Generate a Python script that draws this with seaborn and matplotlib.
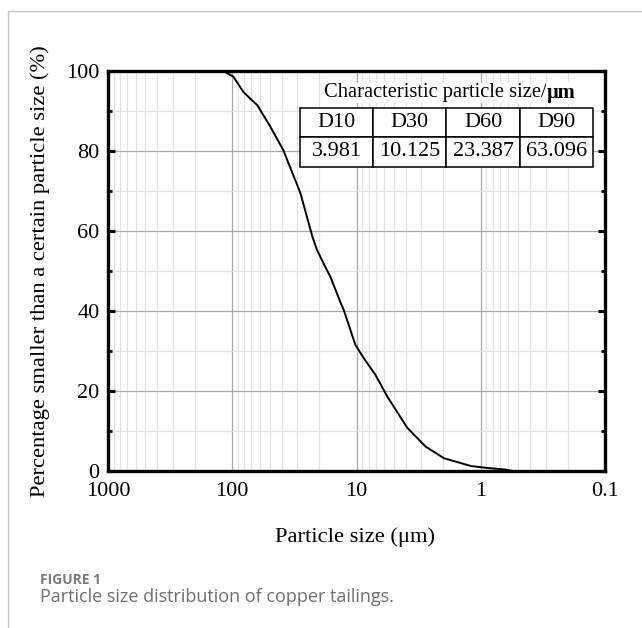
import matplotlib
matplotlib.use("Agg")
import matplotlib.pyplot as plt
import matplotlib.lines as mlines
import numpy as np
import pandas as pd
import seaborn as sns

# cumulative passing curve
particle_size = [1000, 118, 98, 81.5, 69, 63, 49.4, 38.8, 28.3, 22.6, 20.8, 18.5, 16.2,
                 13.4, 12.65, 10.2, 8.73, 7.03, 5.65, 3.9, 2.78, 1.98, 1.2, 0.88, 0.65, 0.55]
pct_smaller = [100, 100, 98.6, 94.8, 92.6, 91.5, 86.1, 80.2, 69.5, 58.5, 55.3, 52, 48.5,
               42, 40.2, 31.5, 28.2, 24, 18.6, 10.8, 6.1, 3.2, 1.25, 0.75, 0.4, 0]

x_ticks = [1000, 100, 10, 1, 0.1]
x_tick_labels = ["1000", "100", "10", "1", "0.1"]
y_ticks = [0, 20, 40, 60, 80, 100]

d_names = ["D10", "D30", "D60", "D90"]
d_values = ["3.981", "10.125", "23.387", "63.096"]

SERIF = ["Liberation Serif", "DejaVu Serif"]


def main():
    sns.set_style("ticks", {"axes.edgecolor": "black", "text.color": "black",
                            "xtick.color": "black", "ytick.color": "black",
                            "axes.labelcolor": "black"})
    plt.rcParams["font.family"] = SERIF

    df = pd.DataFrame({"size": particle_size, "pct": pct_smaller})

    fig = plt.figure(figsize=(6.42, 6.28), dpi=100)
    ax = fig.add_axes([108 / 642, 1 - 471 / 628, 497 / 642, 400 / 628])

    sns.lineplot(data=df, x="size", y="pct", color="black", linewidth=1.4,
                 sort=False, estimator=None, ax=ax)

    ax.set_xscale("log")
    ax.set_xlim(1000, 0.1)
    ax.set_ylim(0, 100)
    ax.set_xticks(x_ticks)
    ax.set_xticklabels(x_tick_labels)
    ax.set_yticks(y_ticks)
    ax.set_yticks([10, 30, 50, 70, 90], minor=True)
    ax.xaxis.set_minor_locator(matplotlib.ticker.LogLocator(base=10, subs=np.arange(2, 10)))
    ax.xaxis.set_minor_formatter(matplotlib.ticker.NullFormatter())

    ax.grid(which="major", color="#a8a8a8", linewidth=0.9)
    ax.grid(which="minor", color="#e2e2e2", linewidth=0.9)
    ax.set_axisbelow(True)

    for sp in ax.spines.values():
        sp.set_linewidth(2.4)
        sp.set_color("black")
        sp.set_visible(True)
        sp.set_zorder(5)

    ax.tick_params(axis="y", which="major", direction="in", length=5, width=2.2,
                   left=True, right=True, labelsize=16, pad=6)
    ax.tick_params(axis="y", which="minor", direction="in", length=3, width=2.0,
                   left=True, right=True)
    ax.tick_params(axis="x", which="both", length=0, labelsize=16, pad=8)

    ax.set_xlabel("Particle size (μm)", fontsize=16.2)
    ax.set_ylabel("Percentage smaller than a certain particle size (%)", fontsize=16.2)
    ax.xaxis.set_label_coords(0.497, -0.14)
    ax.yaxis.set_label_coords(-0.117, 0.5)

    # characteristic size table
    tbl = ax.table(cellText=[d_names, d_values], bbox=[0.386, 0.761, 0.590, 0.147],
                   cellLoc="center", zorder=4)
    tbl.auto_set_font_size(False)
    for cell in tbl.get_celld().values():
        cell.set_linewidth(1.1)
        cell.set_edgecolor("black")
        cell.set_facecolor("white")
        cell.get_text().set_fontsize(16)
        cell.get_text().set_fontfamily(SERIF)
    ax.text(0.883, 0.945, "Characteristic particle size/", transform=ax.transAxes,
            ha="right", va="center", fontsize=14.8, zorder=6,
            bbox=dict(facecolor="white", edgecolor="none", pad=0.5))
    ax.text(0.883, 0.945, "μm", transform=ax.transAxes, ha="left", va="center",
            fontsize=14.8, fontweight="bold", zorder=6,
            bbox=dict(facecolor="white", edgecolor="none", pad=0.5))

    # page frame and caption
    fig.add_artist(mlines.Line2D([7.5 / 642, 1], [1 - 11 / 628, 1 - 11 / 628],
                                 color="#c4c4c4", linewidth=1.0))
    fig.add_artist(mlines.Line2D([7.5 / 642, 7.5 / 642], [0, 1 - 11 / 628],
                                 color="#c4c4c4", linewidth=1.0))
    fig.text(40 / 642, 1 - 580 / 628, "FIGURE 1", fontsize=10, fontweight="bold",
             color="#7a7a7a", family=["Open Sans", "DejaVu Sans"], va="center")
    fig.text(40 / 642, 1 - 597 / 628, "Particle size distribution of copper tailings.",
             fontsize=13, color="#6e6e6e", family=["Open Sans", "DejaVu Sans"], va="center")

    fig.savefig("out.png", dpi=100)


if __name__ == "__main__":
    main()
